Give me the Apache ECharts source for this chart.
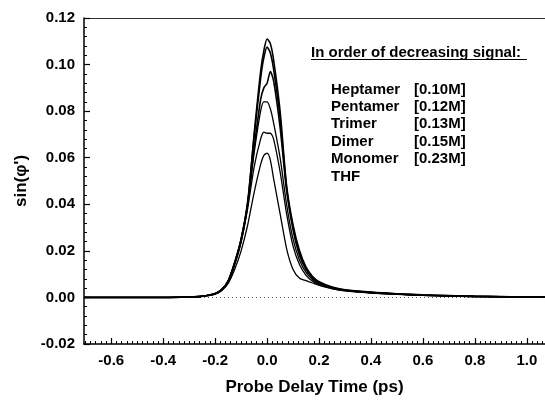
<!DOCTYPE html>
<html><head><meta charset="utf-8">
<script src="https://cdn.jsdelivr.net/npm/echarts@6/dist/echarts.min.js"></script>
<style>html,body{margin:0;padding:0;background:#fff}#c{width:545px;height:407px}</style>
</head><body><div id="c"></div>
<script>
// Probe delay times (ps) shared by all curves
const delayTimes = [-0.705, -0.6, -0.5, -0.4, -0.3, -0.25, -0.2, -0.175, -0.15, -0.125, -0.1, -0.075, -0.05, -0.025, -0.0125, 0, 0.0125, 0.025, 0.05, 0.075, 0.1, 0.125, 0.15, 0.175, 0.2, 0.25, 0.3, 0.4, 0.5, 0.6, 0.7, 0.8, 0.9, 1.0, 1.07];
const heptamer = [0,0,0,0,0.0002,0.0005,0.0015,0.003,0.0065,0.014,0.024,0.040,0.070,0.097,0.106,0.111,0.109,0.102,0.080,0.048,0.031,0.020,0.013,0.009,0.0068,0.0045,0.0033,0.0023,0.0016,0.0011,0.0008,0.0005,0.0004,0.0002,0.0002];
const pentamer = [0,0,0,0,0.0002,0.0005,0.0016,0.0032,0.0068,0.0145,0.025,0.041,0.069,0.094,0.103,0.1075,0.105,0.098,0.077,0.047,0.030,0.019,0.0125,0.0087,0.0065,0.0043,0.0032,0.0022,0.0015,0.001,0.0007,0.0005,0.0003,0.0002,0.0001];
const trimer = [0,0,0,0,0.0002,0.0005,0.0016,0.0033,0.007,0.015,0.025,0.040,0.064,0.085,0.090,0.092,0.097,0.093,0.073,0.046,0.029,0.018,0.012,0.0084,0.0063,0.0042,0.0031,0.0021,0.0015,0.001,0.0007,0.0004,0.0003,0.0002,0.0001];
const dimer = [0,0,0,0,0.0002,0.0005,0.0017,0.0035,0.0072,0.015,0.025,0.040,0.062,0.080,0.084,0.084,0.081,0.075,0.060,0.040,0.025,0.016,0.0108,0.0077,0.0059,0.004,0.003,0.002,0.0014,0.0009,0.0006,0.0004,0.0003,0.0002,0.0001];
const monomer = [0,0,0,0,0.0002,0.0005,0.0017,0.0035,0.0072,0.0148,0.024,0.038,0.056,0.068,0.071,0.0705,0.0705,0.068,0.054,0.036,0.022,0.014,0.0095,0.007,0.0055,0.0038,0.0029,0.002,0.0014,0.0009,0.0006,0.0004,0.0003,0.0002,0.0001];
const thf = [0,0,0,0,0.0002,0.0005,0.0015,0.003,0.006,0.012,0.020,0.031,0.045,0.057,0.061,0.062,0.059,0.051,0.036,0.021,0.012,0.0082,0.0072,0.0062,0.0052,0.0038,0.0028,0.0019,0.0013,0.0009,0.0006,0.0004,0.0003,0.0002,0.0001];

const seriesNames = ['Heptamer', 'Pentamer', 'Trimer', 'Dimer', 'Monomer', 'THF'];
const concentrations = ['[0.10M]', '[0.12M]', '[0.13M]', '[0.15M]', '[0.23M]', ''];
const seriesValues = [heptamer, pentamer, trimer, dimer, monomer, thf];
const xTickValues = [-0.6, -0.4, -0.2, 0.0, 0.2, 0.4, 0.6, 0.8, 1.0];
const yTickValues = [-0.02, 0.00, 0.02, 0.04, 0.06, 0.08, 0.10, 0.12];
const legendTitle = 'In order of decreasing signal:';

const FONT = 'Liberation Sans, Arial, sans-serif';
const X_MIN = -0.705, X_MAX = 1.07;
const xMinor = [];
for (let k = -35; k <= 53; k++) { const v = k * 0.02; if (v >= X_MIN && v <= X_MAX) xMinor.push(+v.toFixed(2)); }

const chart = echarts.init(document.getElementById('c'), null, {renderer: 'canvas'});
const series = seriesNames.map((name, si) => ({
  name: name,
  type: 'line',
  xAxisIndex: 0,
  smooth: 0.25,
  symbol: 'none',
  lineStyle: {color: '#000', width: si < 3 ? 1.6 : 1.3},
  data: delayTimes.map((t, i) => [t, seriesValues[si][i]]),
  z: 3
}));
series[0].markLine = {
  silent: true, symbol: 'none', label: {show: false},
  lineStyle: {color: '#555', type: [1, 3], width: 1},
  data: [{yAxis: 0}], z: 1
};

const graphics = [];
graphics.push({type: 'text', left: 311, top: 45, style: {text: legendTitle, font: 'bold 15px ' + FONT, fill: '#000'}});
graphics.push({type: 'line', shape: {x1: 311, y1: 59.5, x2: 527, y2: 59.5}, style: {stroke: '#000', lineWidth: 1.2}});
const rowY = [90, 107, 124, 142, 159, 177];
seriesNames.forEach((n, i) => {
  graphics.push({type: 'text', x: 331, y: rowY[i], style: {text: n, font: 'bold 15px ' + FONT, fill: '#000', verticalAlign: 'middle'}});
  if (concentrations[i]) graphics.push({type: 'text', x: 414, y: rowY[i], style: {text: concentrations[i], font: 'bold 15px ' + FONT, fill: '#000', verticalAlign: 'middle'}});
});

chart.setOption({
  animation: false,
  backgroundColor: '#fff',
  grid: {left: 84, right: 0, top: 18, bottom: 63, containLabel: false},
  xAxis: [
    {
      type: 'value', min: X_MIN, max: X_MAX, position: 'bottom',
      axisLine: {show: true, onZero: false, lineStyle: {color: '#000', width: 1.5}},
      axisTick: {show: true, inside: true, length: 6, customValues: xTickValues, lineStyle: {color: '#000', width: 1.2}},
      axisLabel: {customValues: xTickValues, formatter: v => v.toFixed(1), fontFamily: FONT, fontWeight: 'bold', fontSize: 15, color: '#000', margin: 9},
      splitLine: {show: false},
      name: 'Probe Delay Time (ps)', nameLocation: 'middle', nameGap: 35,
      nameTextStyle: {fontFamily: FONT, fontWeight: 'bold', fontSize: 17, color: '#000'}
    },
    {
      type: 'value', min: X_MIN, max: X_MAX, position: 'bottom',
      axisLine: {show: false, onZero: false},
      axisTick: {show: true, inside: true, length: 3, customValues: xMinor, lineStyle: {color: '#000', width: 1}},
      axisLabel: {show: false}, splitLine: {show: false}
    },
    {
      type: 'value', min: X_MIN, max: X_MAX, position: 'top',
      axisLine: {show: true, onZero: false, lineStyle: {color: '#333', width: 1.2}},
      axisTick: {show: false}, axisLabel: {show: false}, splitLine: {show: false}
    }
  ],
  yAxis: [{
    type: 'value', min: -0.02, max: 0.12, interval: 0.02,
    axisLine: {show: true, onZero: false, lineStyle: {color: '#000', width: 1.5}},
    axisTick: {show: true, inside: true, length: 6, lineStyle: {color: '#000', width: 1.2}},
    minorTick: {show: true, splitNumber: 5, length: 3, lineStyle: {color: '#000', width: 1}},
    axisLabel: {customValues: yTickValues, formatter: v => v.toFixed(2), fontFamily: FONT, fontWeight: 'bold', fontSize: 15, color: '#000', margin: 9},
    splitLine: {show: false}, minorSplitLine: {show: false},
    name: "sin(\u03c6')", nameLocation: 'middle', nameGap: 50, nameRotate: 90,
    nameTextStyle: {fontFamily: FONT, fontWeight: 'bold', fontSize: 17, color: '#000'}
  }],
  graphic: graphics,
  series: series
});
</script>
</body></html>
